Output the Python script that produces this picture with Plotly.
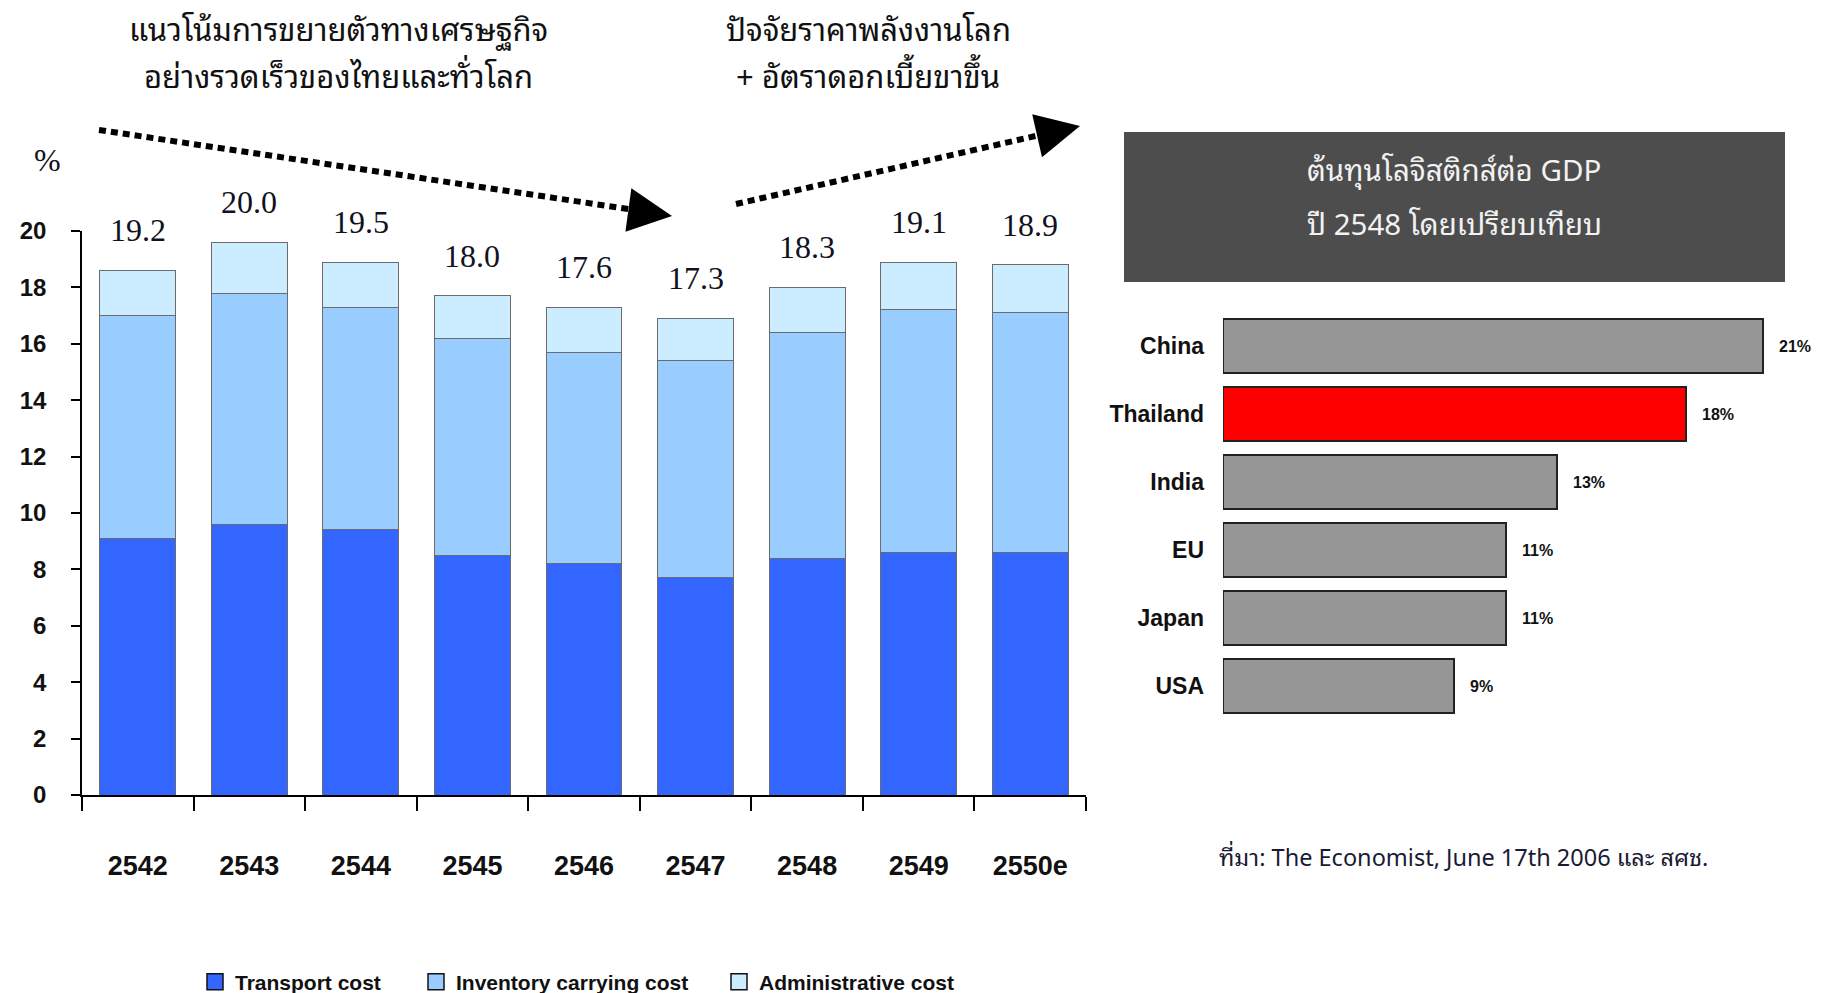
import plotly.graph_objects as go

# ---------------- data ----------------
years = ["2542", "2543", "2544", "2545", "2546", "2547", "2548", "2549", "2550e"]
transport = [9.1, 9.6, 9.4, 8.5, 8.2, 7.7, 8.4, 8.6, 8.6]
inventory = [7.9, 8.2, 7.9, 7.7, 7.5, 7.7, 8.0, 8.6, 8.5]
admin = [1.6, 1.8, 1.6, 1.5, 1.6, 1.5, 1.6, 1.7, 1.7]
total_labels = ["19.2", "20.0", "19.5", "18.0", "17.6", "17.3", "18.3", "19.1", "18.9"]
y_ticks = [0, 2, 4, 6, 8, 10, 12, 14, 16, 18, 20]

series_names = ["Transport cost", "Inventory carrying cost", "Administrative cost"]
series_colors = ["#3366FF", "#99CCFF", "#CCECFF"]

countries = ["China", "Thailand", "India", "EU", "Japan", "USA"]
shares = [21, 18, 13, 11, 11, 9]
share_labels = ["21%", "18%", "13%", "11%", "11%", "9%"]

W, H = 1826, 993
BOLD = "Liberation Sans"
THAI = ("Noto Sans Thai Looped, Noto Serif Thai, Noto Sans Thai, Noto Sans Thai UI, "
        "Tahoma, Garuda, Loma, DejaVu Sans, sans-serif")


def px(x):
    return x / W


def py(y):
    return 1 - y / H


fig = go.Figure()

seg_line = dict(color="#6b6b6b", width=1)
for vals, name, col in zip([transport, inventory, admin], series_names, series_colors):
    fig.add_trace(go.Bar(x=years, y=vals, name=name, showlegend=False,
                         marker=dict(color=col, line=seg_line), xaxis="x", yaxis="y"))

# legend entries (larger square symbols), one legend per entry for exact spacing
for name, col, lg in zip(series_names, series_colors, ["legend", "legend2", "legend3"]):
    fig.add_trace(go.Scatter(x=[None], y=[None], mode="markers", name=name, legend=lg,
                             marker=dict(symbol="square", size=16, color=col,
                                         line=dict(color="#111111", width=1.5)),
                             xaxis="x", yaxis="y"))

bar_colors = ["#FF0000" if c == "Thailand" else "#969696" for c in countries]
fig.add_trace(go.Bar(x=shares, y=countries, orientation="h", showlegend=False,
                     marker=dict(color=bar_colors, line=dict(color="#222222", width=2)),
                     width=0.78, xaxis="x2", yaxis="y2"))

annotations = []
# total labels above stacked bars (category axis positions are indices)
for i, (a, b, c, lab) in enumerate(zip(transport, inventory, admin, total_labels)):
    annotations.append(dict(x=i, y=a + b + c, xref="x", yref="y", text=lab,
                            showarrow=False, xanchor="center", yanchor="middle", yshift=40,
                            font=dict(family="Liberation Serif", size=32, color="#111122")))
# share labels
for c, v, lab in zip(countries, shares, share_labels):
    annotations.append(dict(x=v, y=c, xref="x2", yref="y2", text=lab, showarrow=False,
                            xanchor="left", yanchor="middle", xshift=14,
                            font=dict(family=BOLD, size=16, color="#111111", weight="bold")))


def note(x, y, text, size, color="#111111", family=THAI, xanchor="center"):
    return dict(x=px(x), y=py(y), xref="paper", yref="paper", text=text, showarrow=False,
                xanchor=xanchor, yanchor="middle", font=dict(family=family, size=size, color=color))


annotations += [
    note(47, 160, "%", 32, "#111122", "Liberation Serif"),
    note(338, 27, "แนวโน้มการขยายตัวทางเศรษฐกิจ", 31),
    note(338, 74, "อย่างรวดเร็วของไทยและทั่วโลก", 31),
    note(868, 27, "ปัจจัยราคาพลังงานโลก", 31),
    note(868, 74, "+ อัตราดอกเบี้ยขาขึ้น", 31),
    note(1454, 167, "ต้นทุนโลจิสติกส์ต่อ GDP", 29.5, "#f2f2f2"),
    note(1454, 221, "ปี 2548 โดยเปรียบเทียบ", 29.5, "#f2f2f2"),
    note(1217, 855, "ที่มา: The Economist, June 17th 2006 และ สศช.", 23.5, "#1a1a33", xanchor="left"),
]
# arrowheads
annotations += [
    dict(x=px(672), y=py(216), xref="paper", yref="paper", ax=-22, ay=-3, text="",
         showarrow=True, arrowhead=2, arrowsize=2.2, arrowwidth=4, arrowcolor="#000000"),
    dict(x=px(1080), y=py(126), xref="paper", yref="paper", ax=-22, ay=5, text="",
         showarrow=True, arrowhead=2, arrowsize=2.2, arrowwidth=4, arrowcolor="#000000"),
]

shapes = [
    dict(type="rect", xref="paper", yref="paper", x0=px(1124), x1=px(1785),
         y0=py(282), y1=py(132), fillcolor="#4d4d4d", line=dict(width=0), layer="below"),
    dict(type="line", xref="paper", yref="paper", x0=px(99), y0=py(130), x1=px(655), y1=py(213),
         line=dict(color="#000000", width=6, dash="7px,5px")),
    dict(type="line", xref="paper", yref="paper", x0=px(736), y0=py(204), x1=px(1062), y1=py(130),
         line=dict(color="#000000", width=6, dash="7px,5px")),
]

legend_font = dict(family=BOLD, size=21, color="#111111", weight="bold")


def leg(xpix):
    return dict(orientation="h", xref="container", yref="container",
                x=px(xpix), y=1 - 982 / H, xanchor="left", yanchor="middle",
                font=legend_font, itemwidth=30, itemsizing="trace", bgcolor="rgba(0,0,0,0)")


fig.update_layout(
    width=W, height=H, autosize=False,
    margin=dict(l=0, r=0, t=0, b=0, autoexpand=False),
    paper_bgcolor="white", plot_bgcolor="rgba(0,0,0,0)",
    barmode="stack", bargap=0.32,
    showlegend=True,
    legend=leg(195), legend2=leg(416), legend3=leg(719),
    xaxis=dict(domain=[px(82), px(1086)], range=[-0.5, 8.5], type="category",
               showline=True, linecolor="#000000", linewidth=2,
               ticks="outside", tickson="boundaries", ticklen=14, tickwidth=1.5, tickcolor="#000000",
               ticklabelstandoff=46, automargin=False,
               tickfont=dict(family=BOLD, size=27, color="#111111", weight="bold"),
               showgrid=False, zeroline=False, fixedrange=True),
    yaxis=dict(domain=[py(795), py(231)], range=[0, 20], tickvals=y_ticks,
               showline=True, linecolor="#000000", linewidth=1.5,
               ticks="outside", ticklen=9, tickwidth=1.5, tickcolor="#000000",
               ticklabelstandoff=20, automargin=False,
               tickfont=dict(family=BOLD, size=24, color="#111111", weight="bold"),
               showgrid=False, zeroline=False, fixedrange=True),
    xaxis2=dict(domain=[px(1223), px(1785)], range=[0, 21.87], anchor="y2", automargin=False,
                showline=False, showticklabels=False, ticks="", showgrid=False, zeroline=False),
    yaxis2=dict(domain=[py(720), py(312)], type="category", categoryarray=countries,
                autorange="reversed", anchor="x2", showline=False, ticks="", automargin=False,
                ticklabelstandoff=18,
                tickfont=dict(family=BOLD, size=23, color="#111111", weight="bold"),
                showgrid=False, zeroline=False),
    annotations=annotations,
    shapes=shapes,
)

fig.write_html("out.html")
